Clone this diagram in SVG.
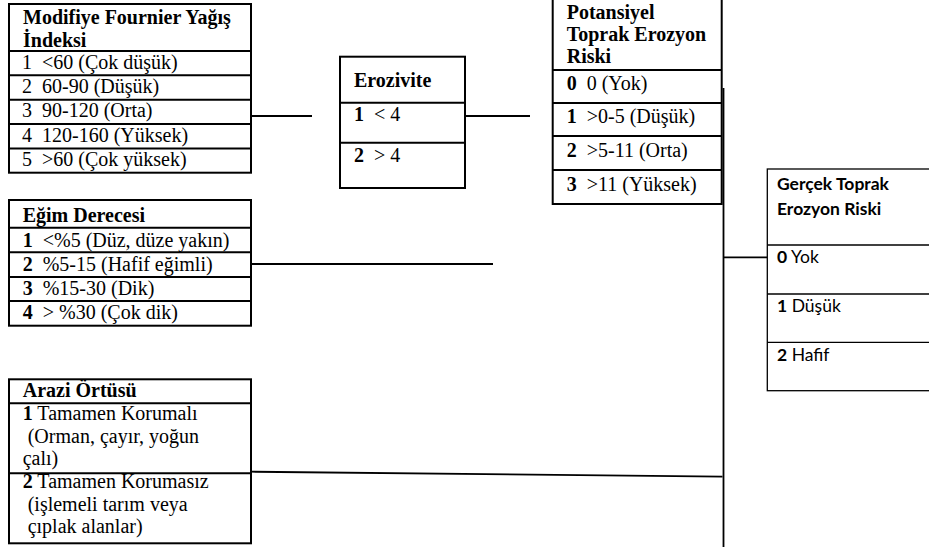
<svg xmlns="http://www.w3.org/2000/svg" width="929" height="547" viewBox="0 0 929 547">
<style>
  .bx { fill: #fff; stroke: #000; stroke-width: 2; }
  .ln { stroke: #000; stroke-width: 2; fill: none; }
  .thin { stroke: #000; stroke-width: 1.3; fill: none; }
  .cn { stroke: #000; stroke-width: 1.8; fill: none; }
  .t { font-family: "Liberation Serif", "Times New Roman", serif; font-size: 20px; fill: #000; white-space: pre; }
  .b { font-weight: bold; }
  .s { font-family: Lato, "Liberation Sans", sans-serif; font-size: 17.5px; fill: #000; white-space: pre; }
</style>
<rect width="929" height="547" fill="#fff"/>

<g id="connectors">
  <line class="cn" x1="251" y1="116" x2="312" y2="116"/>
  <line class="cn" x1="447" y1="116" x2="530" y2="116"/>
  <line class="cn" x1="251" y1="264" x2="493" y2="264"/>
  <line class="cn" x1="251" y1="471.7" x2="722.5" y2="476.7"/>
  <line class="cn" x1="723.5" y1="88" x2="723.5" y2="547"/>
  <line class="cn" x1="706" y1="106.5" x2="722" y2="106.5"/>
  <line class="cn" x1="723.5" y1="257.3" x2="767" y2="257.3"/>
</g>

<g id="modifiye-fournier">
  <rect class="bx" x="9" y="4" width="242" height="168.7"/>
  <line class="ln" x1="9" y1="51" x2="251" y2="51"/>
  <line class="ln" x1="9" y1="75.3" x2="251" y2="75.3"/>
  <line class="ln" x1="9" y1="99.7" x2="251" y2="99.7"/>
  <line class="ln" x1="9" y1="124" x2="251" y2="124"/>
  <line class="ln" x1="9" y1="148.5" x2="251" y2="148.5"/>
  <text class="t b" x="23" y="23.5">Modifiye Fournier Yağış</text>
  <text class="t b" x="23" y="46.5">İndeksi</text>
  <text class="t" x="22" y="68.5">1  &lt;60 (Çok düşük)</text>
  <text class="t" x="22" y="92.8">2  60-90 (Düşük)</text>
  <text class="t" x="22" y="117.2">3  90-120 (Orta)</text>
  <text class="t" x="22" y="141.5">4  120-160 (Yüksek)</text>
  <text class="t" x="22" y="166">5  &gt;60 (Çok yüksek)</text>
</g>

<g id="erozivite">
  <rect class="bx" x="340" y="56.7" width="125" height="131.3"/>
  <line class="ln" x1="340" y1="102.7" x2="465" y2="102.7"/>
  <line class="ln" x1="340" y1="142.7" x2="465" y2="142.7"/>
  <text class="t b" x="354" y="86.7">Erozivite</text>
  <text class="t" x="354" y="120.7"><tspan class="b">1</tspan>  &lt; 4</text>
  <text class="t" x="354" y="161.7"><tspan class="b">2</tspan>  &gt; 4</text>
</g>

<g id="potansiyel-risk">
  <rect class="bx" x="552.7" y="-5" width="169" height="209"/>
  <line class="ln" x1="552.7" y1="70" x2="721.7" y2="70"/>
  <line class="ln" x1="552.7" y1="103" x2="721.7" y2="103"/>
  <line class="ln" x1="552.7" y1="136" x2="721.7" y2="136"/>
  <line class="ln" x1="552.7" y1="170" x2="721.7" y2="170"/>
  <text class="t b" x="566.7" y="18.5">Potansiyel</text>
  <text class="t b" x="566.7" y="40.5">Toprak Erozyon</text>
  <text class="t b" x="566.7" y="62.5">Riski</text>
  <text class="t" x="566.7" y="90"><tspan class="b">0</tspan>  0 (Yok)</text>
  <text class="t" x="566.7" y="123"><tspan class="b">1</tspan>  &gt;0-5 (Düşük)</text>
  <text class="t" x="566.7" y="156.7"><tspan class="b">2</tspan>  &gt;5-11 (Orta)</text>
  <text class="t" x="566.7" y="190.5"><tspan class="b">3</tspan>  &gt;11 (Yüksek)</text>
</g>

<g id="egim-derecesi">
  <rect class="bx" x="9" y="200" width="242" height="125.7"/>
  <line class="ln" x1="9" y1="227.7" x2="251" y2="227.7"/>
  <line class="ln" x1="9" y1="252.3" x2="251" y2="252.3"/>
  <line class="ln" x1="9" y1="277" x2="251" y2="277"/>
  <line class="ln" x1="9" y1="301" x2="251" y2="301"/>
  <text class="t b" x="22.7" y="221.7">Eğim Derecesi</text>
  <text class="t" x="22.7" y="246.7"><tspan class="b">1</tspan>  &lt;%5 (Düz, düze yakın)</text>
  <text class="t" x="22.7" y="271.3"><tspan class="b">2</tspan>  %5-15 (Hafif eğimli)</text>
  <text class="t" x="22.7" y="295.3"><tspan class="b">3</tspan>  %15-30 (Dik)</text>
  <text class="t" x="22.7" y="319.3"><tspan class="b">4</tspan>  &gt; %30 (Çok dik)</text>
</g>

<g id="arazi-ortusu">
  <rect class="bx" x="9" y="379.3" width="242" height="164"/>
  <line class="ln" x1="9" y1="403.3" x2="251" y2="403.3"/>
  <line class="ln" x1="9" y1="473.3" x2="251" y2="473.3"/>
  <text class="t b" x="22.7" y="397.3">Arazi Örtüsü</text>
  <text class="t" x="22.7" y="420"><tspan class="b">1</tspan> Tamamen Korumalı</text>
  <text class="t" x="22.7" y="442.7"> (Orman, çayır, yoğun</text>
  <text class="t" x="22.7" y="465">çalı)</text>
  <text class="t" x="22.7" y="488.3"><tspan class="b">2</tspan> Tamamen Korumasız</text>
  <text class="t" x="22.7" y="510.7"> (işlemeli tarım veya</text>
  <text class="t" x="22.7" y="533.3"> çıplak alanlar)</text>
</g>

<g id="gercek-risk">
  <rect x="767.3" y="169" width="170" height="221.7" fill="#fff" stroke="#000" stroke-width="1.3"/>
  <line class="thin" x1="767.3" y1="245" x2="929" y2="245"/>
  <line class="thin" x1="767.3" y1="294" x2="929" y2="294"/>
  <line class="thin" x1="767.3" y1="342.3" x2="929" y2="342.3"/>
  <text class="s b" x="777" y="190">Gerçek Toprak</text>
  <text class="s b" x="777" y="215">Erozyon Riski</text>
  <text class="s" x="777" y="262.7"><tspan class="b">0</tspan> Yok</text>
  <text class="s" x="777" y="311.7"><tspan class="b">1</tspan> Düşük</text>
  <text class="s" x="777" y="360.7"><tspan class="b">2</tspan> Hafif</text>
</g>
</svg>
